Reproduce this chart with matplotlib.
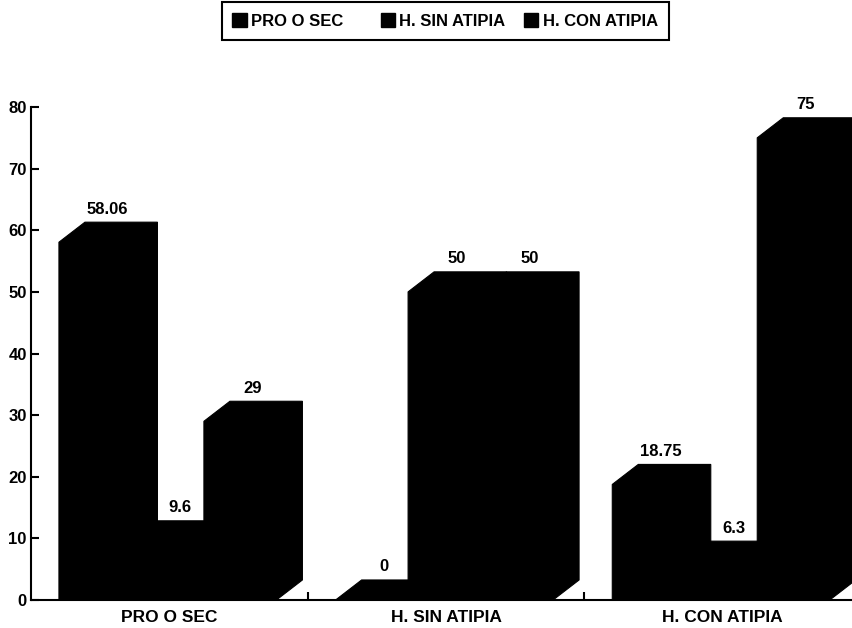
#!/bin/python
"""
3D looking bar chart, all black, three groups of three bars
"""
import matplotlib
matplotlib.use('Agg')
import matplotlib.pyplot as plt
from matplotlib.patches import Patch

plt.rcParams['font.family'] = ['Liberation Sans', 'DejaVu Sans']
plt.rcParams['font.weight'] = 'bold'

categories = ['PRO O SEC', 'H. SIN ATIPIA', 'H. CON ATIPIA']
series_names = ['PRO O SEC', 'H. SIN ATIPIA', 'H. CON ATIPIA']
pro_o_sec = [58.06, 0, 18.75]
h_sin_atipia = [9.6, 50, 6.3]
h_con_atipia = [29, 50, 75]
value_labels = [['58.06', '0', '18.75'], ['9.6', '50', '6.3'], ['29', '50', '75']]
y_ticks = [0, 10, 20, 30, 40, 50, 60, 70, 80]

W, H = 852, 628
fig = plt.figure(figsize=(W / 100, H / 100), dpi=100)
# axes runs a little past the right edge of the figure, the last bar is cut off
ax = fig.add_axes([31 / W, (H - 600) / H, 830 / W, 493 / H])
ax.set_xlim(0, 3)
ax.set_ylim(0, 80)

bar_w = 0.262
start = 0.101
depth_x = 0.094
depth_y = 3.25

for s, values in enumerate([pro_o_sec, h_sin_atipia, h_con_atipia]):
    for g, v in enumerate(values):
        x0 = g + start + s * bar_w
        x1 = x0 + bar_w
        # front, top and side in one outline so no seam shows between the faces
        ax.fill([x0, x0, x0 + depth_x, x1 + depth_x, x1 + depth_x, x1],
                [0, v, v + depth_y, v + depth_y, depth_y, 0],
                color='black', lw=0.8, clip_on=False, zorder=2)
        ax.annotate(value_labels[s][g], (x0 + bar_w / 2, v + depth_y), xytext=(9, 4),
                    textcoords='offset points', ha='center', va='bottom',
                    fontsize=12, annotation_clip=False, zorder=3)

for side in ['top', 'right']:
    ax.spines[side].set_visible(False)
ax.spines['left'].set_linewidth(1.5)
ax.spines['bottom'].set_linewidth(1.5)

ax.set_yticks(y_ticks)
ax.tick_params(axis='y', direction='in', length=6, width=1.5, labelsize=12, pad=3)
ax.set_xticks([1, 2])
ax.set_xticklabels([])
ax.tick_params(axis='x', direction='in', length=6, width=1.5)
# category names sit between the group ticks
ax.set_xticks([0.5, 1.5, 2.5], categories, minor=True)
ax.tick_params(axis='x', which='minor', length=0, labelsize=12.5, pad=7)

handles = [Patch(color='black', label=series_names[0] + '    '),
           Patch(color='black', label=series_names[1]),
           Patch(color='black', label=series_names[2])]
leg = fig.legend(handles=handles, ncols=3, loc='center', bbox_to_anchor=(445 / W, (H - 21) / H),
                 fontsize=12, frameon=True, fancybox=False, edgecolor='black', framealpha=1,
                 handlelength=0.85, handleheight=0.85, handletextpad=0.25, columnspacing=1.15,
                 borderpad=0.65, borderaxespad=0)
leg.get_frame().set_linewidth(1.5)

fig.savefig('out.png', dpi=100)
